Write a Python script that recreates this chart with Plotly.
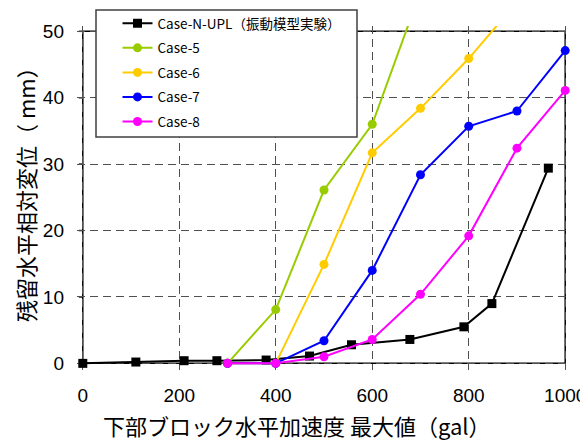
import plotly.graph_objects as go

# ---- data ----
names = ["Case-N-UPL（振動模型実験）", "Case-5", "Case-6", "Case-7", "Case-8"]
x_nupl = [0, 110, 210, 278, 380, 470, 557, 678, 790, 848, 965]
y_nupl = [0.0, 0.2, 0.4, 0.4, 0.5, 1.1, 2.8, 3.6, 5.5, 9.0, 29.4]
x_case = [300, 400, 500, 600, 700, 800, 900, 1000]
y_case5 = [0.0, 8.1, 26.1, 36.0, 56.0]
y_case6 = [0.0, 0.0, 14.9, 31.7, 38.4, 45.9, 54.4]
y_case7 = [0.0, 0.0, 3.4, 14.0, 28.4, 35.7, 38.0, 47.1]
y_case8 = [0.0, 0.0, 1.0, 3.6, 10.4, 19.2, 32.4, 41.1]
x_ticks = [0, 200, 400, 600, 800, 1000]
y_ticks = [0, 10, 20, 30, 40, 50]
x_title = "下部ブロック水平加速度 最大値（gal）"
y_title = "残留水平相対変位（ mm）"

colors = ["#000000", "#99CC00", "#FFCC00", "#0000FF", "#FF00FF"]
CJK = "Noto Sans CJK JP"
DIGITS = "Liberation Sans, Arial, Noto Sans CJK JP"

series = [
    (x_nupl, y_nupl, "square"),
    (x_case[:len(y_case5)], y_case5, "circle"),
    (x_case[:len(y_case6)], y_case6, "circle"),
    (x_case, y_case7, "circle"),
    (x_case, y_case8, "circle"),
]

fig = go.Figure()
for i, (xs, ys, sym) in enumerate(series):
    fig.add_trace(go.Scatter(
        x=xs, y=ys, name=names[i], mode="lines+markers",
        legendgroup=str(i),
        line=dict(color=colors[i], width=2),
        marker=dict(symbol=sym, size=9, color=colors[i]),
        cliponaxis=True,
    ))

# page body has an 8px margin: work in screen pixels, convert to figure
OFF = 8
W, H = 588, 433
L, T = 69, 18
pw, ph = 494, 344
R, B = W - L - pw, H - T - ph

def sx(p):
    return (p - OFF - L) / pw

def sy(p):
    return (H - B - (p - OFF)) / ph

GRID = "#505050"
shapes = [
    dict(type="rect", xref="x", yref="y", x0=x_ticks[0], x1=x_ticks[-1],
         y0=y_ticks[0], y1=y_ticks[-1], line=dict(color="black", width=1.5),
         layer="below"),
    dict(type="rect", xref="paper", yref="paper",
         x0=sx(96), x1=sx(357), y0=sy(137), y1=sy(10),
         line=dict(color="#404040", width=1.5), fillcolor="white",
         layer="above"),
]
for v in y_ticks[1:]:
    shapes.append(dict(type="line", xref="x", yref="y", xsizemode="pixel",
                       xanchor=x_ticks[0], x0=-4, x1=0, y0=v, y1=v,
                       line=dict(color="black", width=1.5), layer="below"))

fig.update_layout(
    width=W, height=H,
    margin=dict(l=L, r=R, t=T, b=B, autoexpand=False),
    paper_bgcolor="white", plot_bgcolor="white",
    font=dict(family=CJK, color="black"),
    showlegend=True,
    legend=dict(
        xref="container", yref="container",
        x=(117.5 - OFF) / W, y=1.0, xanchor="left", yanchor="top",
        bgcolor="rgba(0,0,0,0)", borderwidth=0,
        font=dict(family=CJK, size=13.5, color="black"),
        traceorder="grouped", tracegroupgap=4,
    ),
    xaxis=dict(
        range=[-12, 1012], tickvals=x_ticks, showgrid=True, automargin=False,
        gridcolor=GRID, griddash="8px,5px", gridwidth=1,
        zeroline=False, showline=False, ticks="", ticklabelstandoff=12,
        ticklabeloverflow="allow",
        tickfont=dict(family=DIGITS, size=19, color="black"),
    ),
    yaxis=dict(
        range=[-1, 50.8], tickvals=y_ticks, showgrid=True, automargin=False,
        gridcolor=GRID, griddash="8px,5px", gridwidth=1,
        zeroline=False, showline=False, ticks="", ticklabelstandoff=12,
        ticklabeloverflow="allow",
        tickfont=dict(family=DIGITS, size=19, color="black"),
    ),
    shapes=shapes,
    annotations=[
        dict(text=x_title, xref="paper", yref="paper",
             x=sx(297), y=sy(425), xanchor="center", yanchor="middle",
             showarrow=False, font=dict(family=CJK, size=22, color="black")),
        dict(text=y_title, xref="paper", yref="paper", textangle=-90,
             x=sx(25), y=sy(189), xanchor="center", yanchor="middle",
             showarrow=False, font=dict(family=CJK, size=22, color="black")),
    ],
)

fig.write_html("out.html")
